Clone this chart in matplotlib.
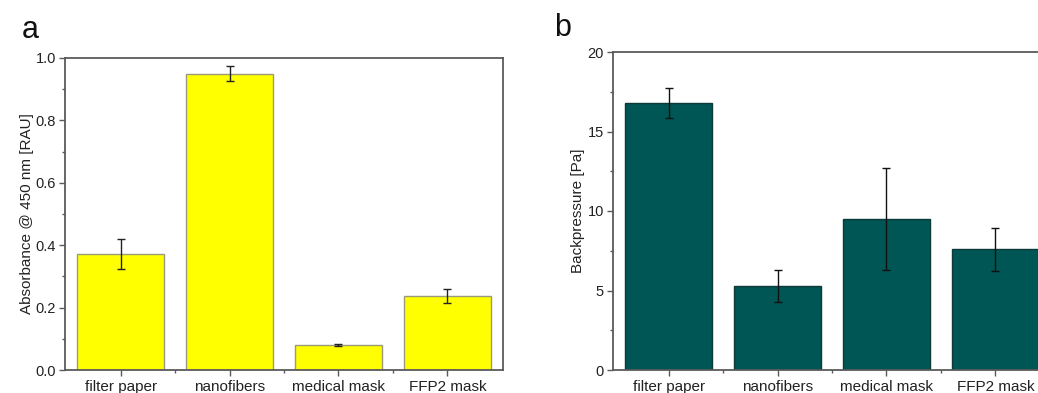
import matplotlib
matplotlib.use("Agg")
import matplotlib.pyplot as plt
from matplotlib.ticker import MultipleLocator, FixedLocator

plt.rcParams['font.family'] = ['Liberation Sans', 'DejaVu Sans']

categories = ["filter paper", "nanofibers", "medical mask", "FFP2 mask"]
absorbance = [0.372, 0.950, 0.080, 0.237]
absorbance_err = [0.048, 0.024, 0.003, 0.023]
backpressure = [16.8, 5.3, 9.5, 7.6]
backpressure_err = [0.95, 1.02, 3.2, 1.36]

W, H = 1038, 393
fig = plt.figure(figsize=(W / 100, H / 100), dpi=100)

spine_col = "#5a5a5a"

def px_axes(l, t, r, b):
    return fig.add_axes([l / W, 1 - b / H, (r - l) / W, (b - t) / H])

def style(ax, ymax, major, minor):
    x = list(range(1, len(categories) + 1))
    ax.set_xlim(0.49, 4.51)
    ax.set_ylim(0, ymax)
    ax.set_xticks(x)
    ax.set_xticklabels(categories, fontsize=11)
    ax.xaxis.set_minor_locator(FixedLocator([1.5, 2.5, 3.5]))
    ax.yaxis.set_major_locator(MultipleLocator(major))
    ax.yaxis.set_minor_locator(MultipleLocator(minor))
    ax.tick_params(axis='both', which='major', direction='out', length=4,
                   width=1.0, color=spine_col, pad=2.5, labelcolor="#222222")
    ax.tick_params(axis='y', which='major', labelsize=10.5)
    ax.tick_params(axis='x', which='major', labelsize=11, pad=3)
    ax.tick_params(axis='both', which='minor', direction='out', length=2.5,
                   width=1.0, color=spine_col)
    ax.tick_params(top=False, right=False, which='both')
    for s in ax.spines.values():
        s.set_color(spine_col)
        s.set_linewidth(1.3)

# Panel a
ax1 = px_axes(65, 58, 503, 370)
x = list(range(1, len(categories) + 1))
ax1.bar(x, absorbance, width=0.8, color="#ffff00", edgecolor="#9a9a7a",
        linewidth=1.0, zorder=2)
ax1.errorbar(x, absorbance, yerr=absorbance_err, fmt='none', ecolor="#222222",
             elinewidth=1.0, capsize=3, capthick=1.0, zorder=3)
style(ax1, 1.0, 0.2, 0.1)
ax1.yaxis.set_major_formatter(matplotlib.ticker.FormatStrFormatter('%.1f'))
ax1.set_ylabel("Absorbance @ 450 nm [RAU]", fontsize=11, color="#222222", labelpad=1)
fig.text(30 / W, 1 - 30 / H, "a", fontsize=22, ha='center', va='center', color="#111111")

# Panel b
ax2 = px_axes(613, 52, 1051, 370)
ax2.bar(x, backpressure, width=0.8, color="#005654", edgecolor="#0d3a39",
        linewidth=1.0, zorder=2)
ax2.errorbar(x, backpressure, yerr=backpressure_err, fmt='none', ecolor="#111111",
             elinewidth=1.0, capsize=3, capthick=1.0, zorder=3)
style(ax2, 20, 5, 2.5)
ax2.set_ylabel("Backpressure [Pa]", fontsize=11, color="#222222", labelpad=2)
fig.text(563 / W, 1 - 28 / H, "b", fontsize=22, ha='center', va='center', color="#111111")

fig.savefig("out.png", dpi=100)
